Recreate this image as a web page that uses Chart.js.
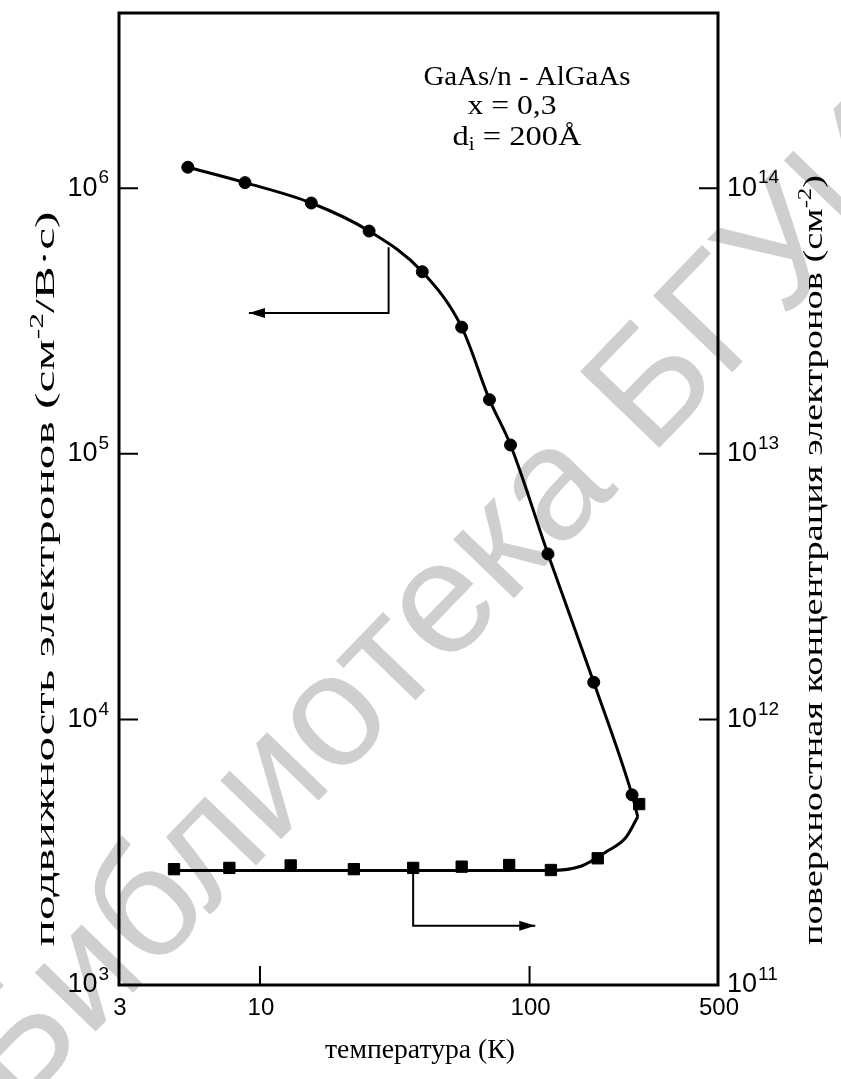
<!DOCTYPE html>
<html>
<head>
<meta charset="utf-8">
<script src="https://cdn.jsdelivr.net/npm/chart.js@4/dist/chart.umd.min.js"></script>
<style>
  html, body { margin: 0; padding: 0; background: #fff; }
</style>
</head>
<body>
<canvas id="chart" width="841" height="1079"></canvas>
<script>
/* Mobility and sheet density of electrons vs temperature, GaAs/n-AlGaAs */

// measured points (circles, left axis)
const tempMobility = [5.4, 8.8, 15.5, 25.4, 40, 56, 71, 85, 117, 173, 240];
const mobility = [1.2e6, 1.05e6, 8.8e5, 6.9e5, 4.85e5, 3.0e5, 1.6e5, 1.08e5, 4.2e4, 1.38e4, 5.2e3];

// measured points (squares, right axis)
const tempDensity = [4.8, 7.7, 13, 22.3, 37, 56, 84, 120, 179, 255];
const density = [2.73e11, 2.76e11, 2.82e11, 2.73e11, 2.76e11, 2.79e11, 2.83e11, 2.71e11, 3.0e11, 4.8e11];

// smooth curves as drawn through the points
const curveMobilityT = [5.4, 8.8, 15.5, 25.4, 40, 56, 71, 85, 117, 173, 240, 252];
const curveMobility = [1.2e6, 1.05e6, 8.8e5, 6.9e5, 4.85e5, 3.0e5, 1.6e5, 1.08e5, 4.2e4, 1.38e4, 5.2e3, 4.3e3];
const curveDensityT = [4.8, 20, 60, 120, 155, 192, 228, 252];
const curveDensity = [2.7e11, 2.7e11, 2.7e11, 2.7e11, 2.8e11, 3.17e11, 3.6e11, 4.3e11];

// axis ticks
const xTicks = [3, 10, 100, 500];
const yExponents = [3, 4, 5, 6];
const y2Exponents = [11, 12, 13, 14];

// arrows pointing to the axis each curve belongs to
const arrowMuT = [30, 30, 9.1];
const arrowMuV = [6.0e5, 3.39e5, 3.39e5];
const arrowNT = [37, 37, 105];
const arrowNV = [2.76e11, 1.67e11, 1.67e11];

const SERIF = '"Liberation Serif", "DejaVu Serif", serif';
const SANS = '"Liberation Sans", Arial, sans-serif';

const pts = (xs, ys) => xs.map((x, i) => ({ x, y: ys[i] }));

// text run made of pieces, stretched along its direction to a given length
function drawRun(ctx, parts, cx, cy, len, angle) {
    ctx.save();
    let total = 0;
    parts.forEach(p => {
        ctx.font = p.size + 'px ' + (p.font || SERIF);
        p.w = ctx.measureText(p.t).width;
        total += p.w;
    });
    ctx.translate(cx, cy);
    ctx.rotate(angle);
    ctx.scale(len / total, 1);
    ctx.fillStyle = '#000';
    ctx.textAlign = 'left';
    ctx.textBaseline = 'middle';
    let x = -total / 2;
    parts.forEach(p => {
        ctx.font = p.size + 'px ' + (p.font || SERIF);
        ctx.fillText(p.t, x, p.dy || 0);
        x += p.w;
    });
    ctx.restore();
}

function powLabel(ctx, exp, x, y, side) {
    ctx.save();
    ctx.fillStyle = '#000';
    ctx.textBaseline = 'middle';
    ctx.textAlign = 'left';
    ctx.font = '27px ' + SANS;
    const wb = ctx.measureText('10').width;
    ctx.font = '19px ' + SANS;
    const we = ctx.measureText(String(exp)).width;
    const left = side === 'left' ? x - wb - we - 1 : x;
    ctx.font = '27px ' + SANS;
    ctx.fillText('10', left, y);
    ctx.font = '19px ' + SANS;
    ctx.fillText(String(exp), left + wb + 1, y - 10);
    ctx.restore();
}

function arrow(ctx, xs, ys, xScale, yScale) {
    const p = xs.map((t, i) => [xScale.getPixelForValue(t), yScale.getPixelForValue(ys[i])]);
    ctx.save();
    ctx.strokeStyle = '#000';
    ctx.fillStyle = '#000';
    ctx.lineWidth = 2;
    ctx.beginPath();
    ctx.moveTo(p[0][0], p[0][1]);
    p.slice(1).forEach(q => ctx.lineTo(q[0], q[1]));
    ctx.stroke();
    const [ax, ay] = p[p.length - 1];
    const [bx, by] = p[p.length - 2];
    const a = Math.atan2(ay - by, ax - bx);
    ctx.translate(ax, ay);
    ctx.rotate(a);
    ctx.beginPath();
    ctx.moveTo(0, 0);
    ctx.lineTo(-16, -5);
    ctx.lineTo(-16, 5);
    ctx.closePath();
    ctx.fill();
    ctx.restore();
}

const decorations = {
    id: 'decorations',
    beforeDraw(chart) {
        const ctx = chart.ctx;
        ctx.save();
        ctx.fillStyle = '#fff';
        ctx.fillRect(0, 0, chart.width, chart.height);
        // library watermark
        ctx.translate(15, 1115);
        ctx.rotate(-46 * Math.PI / 180);
        ctx.font = '160px ' + SANS;
        ctx.fillStyle = '#cfcfcf';
        ctx.textBaseline = 'alphabetic';
        ctx.fillText('Библиотека БГУИР', 0, 0);
        ctx.restore();
    },
    afterDraw(chart) {
        const ctx = chart.ctx;
        const { left, right, top, bottom } = chart.chartArea;
        const x = chart.scales.x, y = chart.scales.y, y2 = chart.scales.y2;

        ctx.save();
        ctx.strokeStyle = '#000';
        ctx.lineWidth = 3;
        ctx.strokeRect(left, top, right - left, bottom - top);

        // inner tick marks
        ctx.lineWidth = 2;
        ctx.beginPath();
        yExponents.slice(1).forEach(e => {
            const py = y.getPixelForValue(Math.pow(10, e));
            ctx.moveTo(left, py); ctx.lineTo(left + 19, py);
        });
        y2Exponents.slice(1).forEach(e => {
            const py = y2.getPixelForValue(Math.pow(10, e));
            ctx.moveTo(right, py); ctx.lineTo(right - 19, py);
        });
        xTicks.slice(1, -1).forEach(t => {
            const px = x.getPixelForValue(t);
            ctx.moveTo(px, bottom); ctx.lineTo(px, bottom - 19);
        });
        ctx.stroke();
        ctx.restore();

        // tick labels
        yExponents.forEach(e => powLabel(ctx, e, left - 10, y.getPixelForValue(Math.pow(10, e)), 'left'));
        y2Exponents.forEach(e => powLabel(ctx, e, right + 9, y2.getPixelForValue(Math.pow(10, e)), 'right'));
        ctx.save();
        ctx.fillStyle = '#000';
        ctx.font = '24px ' + SANS;
        ctx.textAlign = 'center';
        ctx.textBaseline = 'middle';
        xTicks.forEach(t => ctx.fillText(String(t), x.getPixelForValue(t) + 1, bottom + 23));
        ctx.restore();

        // arrows
        arrow(ctx, arrowMuT, arrowMuV, x, y);
        arrow(ctx, arrowNT, arrowNV, x, y2);

        // axis titles
        drawRun(ctx, [{ t: 'температура (К)', size: 28 }], 420, 1051, 190, 0);
        drawRun(ctx, [
            { t: 'подвижность электронов (см', size: 28 },
            { t: '-2', size: 18, dy: -9 },
            { t: '/В·с)', size: 28 }
        ], 47, 579, 735, -Math.PI / 2);
        drawRun(ctx, [
            { t: 'поверхностная концентрация электронов (см', size: 28 },
            { t: '-2', size: 18, dy: -9 },
            { t: ')', size: 28 }
        ], 815, 560, 770, -Math.PI / 2);

        // sample description
        drawRun(ctx, [{ t: 'GaAs/n - AlGaAs', size: 28 }], 527, 78, 207, 0);
        drawRun(ctx, [{ t: 'x = 0,3', size: 28 }], 512, 107, 89, 0);
        drawRun(ctx, [
            { t: 'd', size: 28 },
            { t: 'i', size: 18, dy: 7 },
            { t: ' = 200Å', size: 28 }
        ], 517, 138, 129, 0);
    }
};

new Chart(document.getElementById('chart'), {
    type: 'scatter',
    data: {
        datasets: [
            {
                data: pts(curveMobilityT, curveMobility),
                yAxisID: 'y',
                showLine: true,
                borderColor: '#000',
                borderWidth: 3,
                pointRadius: 0,
                cubicInterpolationMode: 'monotone',
            },
            {
                data: pts(curveDensityT, curveDensity),
                yAxisID: 'y2',
                showLine: true,
                borderColor: '#000',
                borderWidth: 3,
                pointRadius: 0,
                cubicInterpolationMode: 'monotone',
            },
            {
                data: pts(tempMobility, mobility),
                yAxisID: 'y',
                pointStyle: 'circle',
                pointRadius: 6,
                backgroundColor: '#000',
                borderColor: '#000',
            },
            {
                data: pts(tempDensity, density),
                yAxisID: 'y2',
                pointStyle: 'rect',
                pointRadius: 8,
                backgroundColor: '#000',
                borderColor: '#000',
            },
        ],
    },
    options: {
        responsive: false,
        animation: false,
        layout: { padding: { left: 119, right: 123, top: 13, bottom: 94 } },
        plugins: { legend: { display: false }, tooltip: { enabled: false } },
        scales: {
            x: { type: 'logarithmic', min: 3, max: 500, display: false },
            y: { type: 'logarithmic', min: 1e3, max: 4.57e6, display: false },
            y2: { type: 'logarithmic', position: 'right', min: 1e11, max: 4.57e14, display: false },
        },
    },
    plugins: [decorations],
});
</script>
</body>
</html>
